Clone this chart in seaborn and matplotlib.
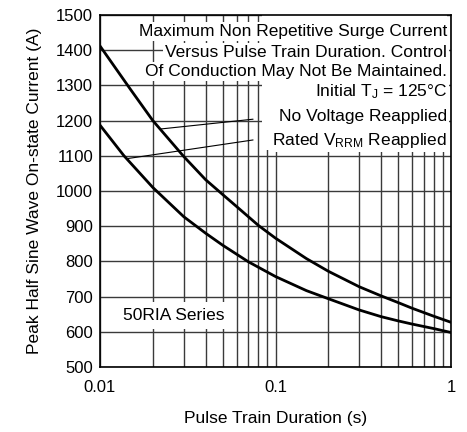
import numpy as np
import pandas as pd
import matplotlib
matplotlib.use("Agg")
import matplotlib.pyplot as plt
from matplotlib.ticker import FixedLocator, NullFormatter, LogLocator
from matplotlib.patches import Rectangle
import seaborn as sns

# ---- data ----
t_no_voltage = [0.01, 0.015, 0.02, 0.03, 0.04, 0.05, 0.06, 0.08, 0.1,
                0.15, 0.2, 0.3, 0.4, 0.5, 0.6, 0.8, 1.0]
i_no_voltage = [1412, 1287, 1200, 1098, 1032, 990, 956, 902, 866,
                808, 772, 728, 702, 683, 667, 644, 627]

t_rated = [0.01, 0.0137, 0.02, 0.03, 0.04, 0.05, 0.07, 0.1, 0.15,
           0.2, 0.3, 0.4, 0.5, 0.6, 0.8, 1.0]
i_rated = [1187, 1100, 1010, 927, 880, 846, 799, 757, 717,
           694, 662, 643, 631, 622, 609, 598]

x_ticks = [0.01, 0.1, 1]
x_tick_labels = ["0.01", "0.1", "1"]
y_ticks = list(range(500, 1501, 100))

annotation_lines = [
    "Maximum Non Repetitive Surge Current",
    "Versus Pulse Train Duration. Control",
    "Of Conduction May Not Be Maintained.",
    r"Initial $\mathregular{T_J}$ = 125°C",
    "No Voltage Reapplied",
    r"Rated $\mathregular{V_{RRM}}$ Reapplied",
]
# leader lines: (text end point) -> (curve point), data coords
leader_no_voltage = [(0.0745, 1204), (0.0220, 1176)]
leader_rated = [(0.0745, 1145), (0.0143, 1092)]
series_label = "50RIA Series"

df = pd.concat([
    pd.DataFrame({"t": t_no_voltage, "I": i_no_voltage, "curve": "No Voltage Reapplied"}),
    pd.DataFrame({"t": t_rated, "I": i_rated, "curve": "Rated VRRM Reapplied"}),
])

sns.set_theme(style="white")
plt.rcParams["font.family"] = ["Liberation Sans", "DejaVu Sans"]
plt.rcParams["mathtext.fontset"] = "custom"
plt.rcParams["mathtext.rm"] = "Liberation Sans"

fig = plt.figure(figsize=(4.67, 4.32), dpi=100)
ax = fig.add_axes([100/467, 65/432, 351/467, 352/432])

sns.lineplot(data=df, x="t", y="I", hue="curve", palette=["black", "black"],
             legend=False, estimator=None, sort=True, linewidth=2.0, ax=ax, zorder=5)
for ln in ax.get_lines():
    ln.set_solid_joinstyle("round")

ax.set_xscale("log")
ax.set_xlim(0.01, 1)
ax.set_ylim(500, 1500)
ax.xaxis.set_major_locator(FixedLocator(x_ticks))
ax.set_xticklabels(x_tick_labels)
ax.xaxis.set_minor_locator(LogLocator(base=10, subs=np.arange(2, 10)))
ax.xaxis.set_minor_formatter(NullFormatter())
ax.set_yticks(y_ticks)
ax.tick_params(axis="both", which="both", length=0, labelsize=12, colors="black")
ax.tick_params(axis="x", pad=9)
ax.tick_params(axis="y", pad=5)
ax.grid(True, which="both", color="#3a3a3a", linewidth=1.0)
ax.set_axisbelow(True)
for s in ax.spines.values():
    s.set_color("black")
    s.set_linewidth(1.2)

ax.set_xlabel("Pulse Train Duration (s)", fontsize=12.5, labelpad=12, color="black")
ax.set_ylabel("Peak Half Sine Wave On-state Current (A)", fontsize=12.5, labelpad=10, color="black")

# white mask over the grid behind the annotation block
ax.add_patch(Rectangle((0.4615, 0.6165), 0.9886 - 0.4615, 1 - 0.6165,
                       transform=ax.transAxes, facecolor="white", edgecolor="none", zorder=2))

y_pos = [0.9395, 0.8807, 0.8276, 0.7679, 0.6989, 0.6307]
for txt, yy in zip(annotation_lines, y_pos):
    ax.text(0.9886, yy, txt, transform=ax.transAxes, ha="right", va="baseline",
            fontsize=12.5, color="black", zorder=6,
            bbox=dict(facecolor="white", edgecolor="none", pad=1.5))

for seg in (leader_no_voltage, leader_rated):
    xs, ys = zip(*seg)
    ax.plot(xs, ys, color="black", linewidth=0.8, zorder=4)

ax.text(0.0664, 0.1335, series_label, transform=ax.transAxes, ha="left", va="baseline",
        fontsize=12.5, color="black", zorder=6,
        bbox=dict(facecolor="white", edgecolor="none", pad=4))

fig.savefig("out.png", dpi=100)
